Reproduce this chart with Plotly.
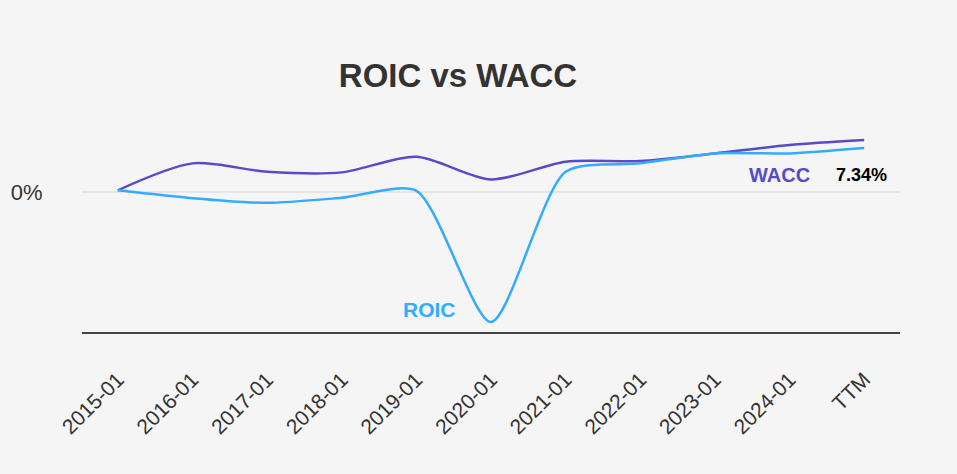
import plotly.graph_objects as go

categories = ["2015-01", "2016-01", "2017-01", "2018-01", "2019-01", "2020-01",
              "2021-01", "2022-01", "2023-01", "2024-01", "TTM"]
wacc = [0.3, 4.07, 2.89, 2.81, 5.0, 1.82, 4.3, 4.39, 5.47, 6.64, 7.34]
roic = [0.3, -0.8, -1.46, -0.76, 0.22, -18.16, 2.89, 4.07, 5.47, 5.47, 6.22]
y_tick_vals = [0]
y_tick_text = ["0%"]
title_text = "ROIC vs WACC"
last_label = "7.34%"

BG = "#f5f5f5"
WACC_C = "#574bc8"
ROIC_C = "#33acff"
FONT = "Arial, Liberation Sans, sans-serif"

fig = go.Figure()
fig.add_trace(go.Scatter(x=list(range(len(categories))), y=wacc, mode="lines",
                         line=dict(color=WACC_C, width=2.5, shape="spline", smoothing=0.8),
                         name="WACC", hoverinfo="skip"))
fig.add_trace(go.Scatter(x=list(range(len(categories))), y=roic, mode="lines",
                         line=dict(color=ROIC_C, width=2.5, shape="spline", smoothing=0.7),
                         name="ROIC", hoverinfo="skip"))

fig.add_annotation(x=8.87, y=2.5, xref="x", yref="y", text="<b>WACC</b>", showarrow=False,
                   font=dict(family=FONT, size=20, color=WACC_C))
fig.add_annotation(x=9.97, y=2.43, xref="x", yref="y", text="<b>" + last_label + "</b>", showarrow=False,
                   font=dict(family=FONT, size=18, color="#000000"))
fig.add_annotation(x=4.18, y=-16.4, xref="x", yref="y", text="<b>ROIC</b>", showarrow=False,
                   font=dict(family=FONT, size=21, color=ROIC_C))

fig.update_layout(
    width=957, height=474,
    paper_bgcolor=BG, plot_bgcolor=BG,
    margin=dict(l=82, r=57, t=110, b=142),
    showlegend=False,
    hovermode=False,
    title=dict(text="<b>" + title_text + "</b>", x=458 / 957, xanchor="center", xref="container",
               y=1 - 75 / 474, yanchor="middle", yref="container",
               font=dict(family=FONT, size=33, color="#333333")),
    font=dict(family=FONT, color="#333333"),
    xaxis=dict(tickmode="array", tickvals=list(range(len(categories))), ticktext=categories,
               range=[-0.48, 10.48], tickangle=-45, showgrid=False, zeroline=False,
               showline=True, linecolor="#444444", linewidth=2,
               ticks="outside", ticklen=25, tickcolor="rgba(0,0,0,0)",
               tickfont=dict(family=FONT, size=21, color="#333333")),
    yaxis=dict(tickmode="array", tickvals=y_tick_vals, ticktext=y_tick_text,
               range=[-19.56, 11.55], showgrid=True, gridcolor="#e6e6e6", gridwidth=2,
               zeroline=False, showline=False,
               ticks="outside", ticklen=34, tickcolor="rgba(0,0,0,0)",
               tickfont=dict(family=FONT, size=22, color="#333333")),
)

fig.write_html("out.html", config={"displayModeBar": False},
               post_script="document.body.style.margin='0';document.body.style.background='#f5f5f5';")
